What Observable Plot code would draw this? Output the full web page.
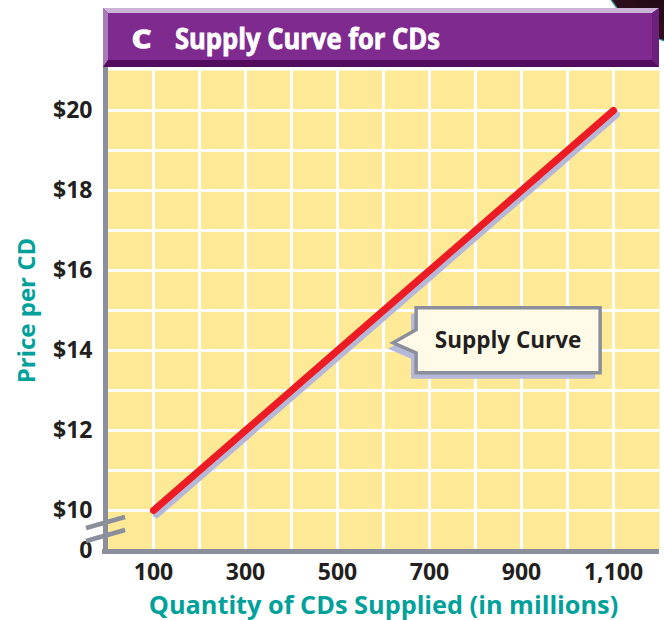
<!DOCTYPE html>
<html>
<head>
<meta charset="utf-8">
<script src="https://cdn.jsdelivr.net/npm/d3@7"></script>
<script src="https://cdn.jsdelivr.net/npm/@observablehq/plot@0.6"></script>
<style>
  html, body { margin: 0; padding: 0; background: #ffffff; }
  #chart svg { display: block; }
</style>
</head>
<body>
<div id="chart"></div>
<script>
// ---- data ----
const quantity = [100, 300, 500, 700, 900, 1100];
const price = [10, 12, 14, 16, 18, 20];
const xTicks = [100, 300, 500, 700, 900, 1100];
const yTicks = [9, 10, 12, 14, 16, 18, 20];
const yTickLabels = ["0", "$10", "$12", "$14", "$16", "$18", "$20"];
const xGrid = [100, 200, 300, 400, 500, 600, 700, 800, 900, 1000, 1100];
const yGrid = [10, 11, 12, 13, 14, 15, 16, 17, 18, 19, 20];
const badge = "C";
const title = "Supply Curve for CDs";
const xLabel = "Quantity of CDs Supplied (in millions)";
const yLabel = "Price per CD";
const calloutText = "Supply Curve";
const calloutTip = { q: 622, p: 14.18 };

(function () {
const data = quantity.map((q, i) => ({ q, p: price[i] }));

const axisGray = "#8b8f9c";
const ink = "#231f20";
const teal = "#00a19a";

const plot = Plot.plot({
  width: 664,
  height: 620,
  marginLeft: 107,
  marginRight: 5,
  marginTop: 70,
  marginBottom: 70,
  x: { domain: [0, 1200] },
  y: { domain: [9, 21] },
  style: { fontFamily: "'Open Sans', 'Noto Sans', sans-serif", background: "#ffffff", overflow: "visible" },
  marks: [
    Plot.frame({ fill: "#fde996", stroke: null }),
    Plot.gridX(xGrid, { stroke: "#ffffff", strokeOpacity: 1, strokeWidth: 3 }),
    Plot.gridY(yGrid, { stroke: "#ffffff", strokeOpacity: 1, strokeWidth: 3 }),
    Plot.ruleX([0], { stroke: axisGray, strokeWidth: 5, dx: -2, insetTop: -3, insetBottom: -4 }),
    Plot.ruleY([9], { stroke: axisGray, strokeWidth: 5, dy: 1, insetLeft: -5 }),
    Plot.axisY(yTicks, {
      tickSize: 0, tickPadding: 15, label: null,
      tickFormat: d => yTickLabels[yTicks.indexOf(d)],
      fontSize: 23, fontWeight: "bold", fill: ink
    }),
    Plot.axisX(xTicks, {
      tickSize: 0, tickPadding: 13, label: null,
      tickFormat: d3.format(","),
      fontSize: 23, fontWeight: "bold", fill: ink
    }),
    Plot.text([yLabel], {
      frameAnchor: "left", dx: -80, rotate: -90, textAnchor: "middle", lineAnchor: "middle",
      fill: teal, fontSize: 24, fontWeight: "bold"
    }),
    Plot.text([xLabel], {
      frameAnchor: "bottom", dy: 55, lineAnchor: "middle",
      fill: teal, fontSize: 25.3, fontWeight: "bold"
    }),
    Plot.line(data, { x: "q", y: "p", stroke: "#b5b8d8", strokeWidth: 7, dx: 3, dy: 4, strokeLinecap: "round" }),
    Plot.line(data, { x: "q", y: "p", stroke: "#ed1c24", strokeWidth: 7, strokeLinecap: "round" })
  ]
});

document.getElementById("chart").appendChild(plot);

const svg = d3.select(plot);
const sx = plot.scale("x");
const sy = plot.scale("y");
const xLeft = sx.apply(0);
const xRight = sx.apply(1200);
const yBottom = sy.apply(9);
const yTop = sy.apply(21);

// decorative dark blob at top right (behind title bar)
const deco = svg.insert("g", ":first-child");
const defs = svg.append("defs");
const grad = defs.append("radialGradient").attr("id", "blob").attr("cx", "35%").attr("cy", "60%").attr("r", "70%");
grad.append("stop").attr("offset", "0%").attr("stop-color", "#1a0810");
grad.append("stop").attr("offset", "70%").attr("stop-color", "#3a0f24");
grad.append("stop").attr("offset", "100%").attr("stop-color", "#b0607a");
deco.append("circle").attr("cx", 692).attr("cy", -50).attr("r", 95)
  .attr("fill", "url(#blob)").attr("stroke", "#3d8e96").attr("stroke-width", 1.5);

// title bar with bevel
const tb = svg.append("g").attr("text-anchor", "start");
const L = xLeft - 4, R = xRight, T = 8, B = yTop - 3, bw = 5, bh = 7;
tb.append("rect").attr("x", L).attr("y", T).attr("width", R - L).attr("height", B - T).attr("fill", "#7f2a8f");
tb.append("polygon").attr("points", `${L},${T} ${R},${T} ${R - bw - 2},${T + 5} ${L + bw},${T + 5}`).attr("fill", "#cbb3d6");
tb.append("polygon").attr("points", `${L},${T} ${L + bw},${T + 5} ${L + bw},${B - bh} ${L},${B}`).attr("fill", "#a87cb6");
tb.append("polygon").attr("points", `${R},${T} ${R},${B} ${R - bw - 2},${B - bh} ${R - bw - 2},${T + 5}`).attr("fill", "#6c1f7c");
tb.append("polygon").attr("points", `${L},${B} ${R},${B} ${R - bw - 2},${B - bh} ${L + bw},${B - bh}`).attr("fill", "#540c5e");
tb.append("text").attr("x", 132).attr("y", 47.5).text(badge).attr("text-anchor", "start")
  .attr("fill", "#ffffff").attr("stroke", "#ffffff").attr("stroke-width", 1.6)
  .attr("font-family", "'Open Sans', sans-serif").attr("font-weight", "bold")
  .attr("font-size", 25).attr("textLength", 19).attr("lengthAdjust", "spacingAndGlyphs");
tb.append("text").attr("x", 175).attr("y", 48.5).text(title).attr("text-anchor", "start")
  .attr("fill", "#ffffff").attr("stroke", "#ffffff").attr("stroke-width", 0.8)
  .attr("font-family", "'Open Sans', sans-serif").attr("font-weight", "bold")
  .attr("font-size", 28).attr("textLength", 265).attr("lengthAdjust", "spacingAndGlyphs");

// axis break marks
const brk = svg.append("g").attr("stroke", axisGray).attr("stroke-width", 4.5).attr("fill", "none");
const ax = xLeft - 2;
[[-22, -33], [-9, -20]].forEach(([y1, y2]) => {
  brk.append("line").attr("x1", ax - 19).attr("y1", yBottom + y1).attr("x2", ax + 20).attr("y2", yBottom + y2);
});

// callout
const tx = sx.apply(calloutTip.q), ty = sy.apply(calloutTip.p);
const bx0 = tx + 23, bx1 = tx + 207, by0 = ty - 35, by1 = ty + 30;
const nt = ty - 13, nb = ty + 10;
const pathFor = (ox, oy) =>
  `M${bx0 + ox},${by0 + oy} L${bx1 + ox},${by0 + oy} L${bx1 + ox},${by1 + oy} L${bx0 + ox},${by1 + oy} ` +
  `L${bx0 + ox},${nb + oy} L${tx + ox},${ty + oy} L${bx0 + ox},${nt + oy} Z`;
const co = svg.append("g");
co.append("path").attr("d", pathFor(-5, 6)).attr("fill", "#b5b8d8");
co.append("path").attr("d", pathFor(0, 0)).attr("fill", "#fffbe8").attr("stroke", axisGray).attr("stroke-width", 3.5).attr("stroke-linejoin", "miter");
co.append("text").attr("x", (bx0 + bx1) / 2).attr("y", (by0 + by1) / 2).attr("dy", "0.35em")
  .attr("text-anchor", "middle").text(calloutText)
  .attr("fill", ink).attr("font-family", "'Open Sans', sans-serif").attr("font-weight", "bold").attr("font-size", 22.5);
})();
</script>
</body>
</html>
